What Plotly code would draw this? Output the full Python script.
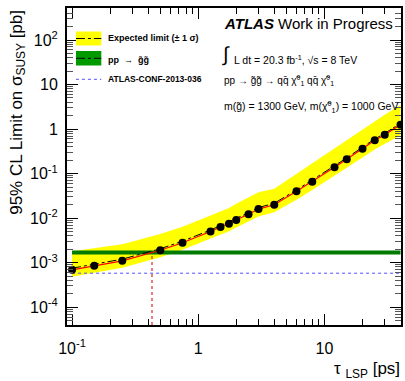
import plotly.graph_objects as go

# ---- data ----
tau = [0.1, 0.15, 0.25, 0.5, 0.75, 1.25, 1.5, 1.75, 2.0, 2.5, 3.0, 4.0, 6.0, 8.0, 12, 15, 20, 25, 30, 40]
limit = [6.9e-4, 8.5e-4, 1.1e-3, 1.9e-3, 2.8e-3, 5.0e-3, 6.3e-3, 7.5e-3, 9.1e-3, 0.0122, 0.016, 0.020,
         0.040, 0.066, 0.139, 0.21, 0.36, 0.56, 0.75, 1.26]
expected = [7.5e-4, 9.3e-4, 1.2e-3, 2.05e-3, 3.05e-3, 5.4e-3, 6.8e-3, 8.1e-3, 9.8e-3, 0.0132, 0.0173, 0.0216,
            0.043, 0.071, 0.15, 0.226, 0.385, 0.6, 0.8, 1.35]
band_up = [1.8e-3, 2.1e-3, 2.6e-3, 4.4e-3, 6.4e-3, 1.14e-2, 1.43e-2, 1.7e-2, 2.1e-2, 2.9e-2, 3.8e-2, 4.6e-2,
           0.1, 0.17, 0.37, 0.57, 1.0, 1.55, 2.1, 3.5]
band_dn = [4.8e-4, 5.9e-4, 7.7e-4, 1.33e-3, 1.95e-3, 3.4e-3, 4.3e-3, 5.1e-3, 6.2e-3, 8.3e-3, 1.09e-2, 1.36e-2,
           2.6e-2, 4.3e-2, 9.0e-2, 0.135, 0.23, 0.35, 0.47, 0.72]
xsec_gluino = 1.7e-3          # pp -> gluino pair cross section [pb]
conf_limit = 5.8e-4           # ATLAS-CONF-2013-036
tau_excl = 0.43               # crossing point [ps]

x_tickvals = [0.1, 1, 10]
x_ticktext = ["10<sup>-1</sup>", "1", "10"]
y_tickvals = [1e-4, 1e-3, 1e-2, 1e-1, 1, 10, 100]
y_ticktext = ["10<sup>-4</sup>", "10<sup>-3</sup>", "10<sup>-2</sup>", "10<sup>-1</sup>", "1", "10", "10<sup>2</sup>"]

W, H = 405, 381
L, R, T, B = 67, 403, 8, 325
XR = [-1.04, 1.606]
YR = [-4.40, 2.72]

def px(x):
    return (x - L) / (R - L)

def py(y):
    return (B - y) / (B - T)

FONT = "Liberation Sans, Arial, Helvetica, sans-serif"

fig = go.Figure()

# yellow band
fig.add_trace(go.Scatter(x=tau + tau[::-1], y=band_up + band_dn[::-1], fill="toself",
                         fillcolor="#ffff00", line=dict(width=0), mode="lines",
                         hoverinfo="skip", showlegend=False))
# green cross-section line
fig.add_trace(go.Scatter(x=[tau[0], tau[-1]], y=[xsec_gluino, xsec_gluino], mode="lines",
                         line=dict(color="#007a00", width=4), showlegend=False))
# blue dotted reference
fig.add_trace(go.Scatter(x=[tau[0], 10 ** XR[1]], y=[conf_limit, conf_limit], mode="lines",
                         line=dict(color="#5050ff", width=1, dash="dot"), showlegend=False))
# red dashed vertical
fig.add_trace(go.Scatter(x=[tau_excl, tau_excl], y=[10 ** YR[0], xsec_gluino], mode="lines",
                         line=dict(color="#cc0000", width=1, dash="dot"), showlegend=False))
# expected dash-dot
fig.add_trace(go.Scatter(x=tau, y=expected, mode="lines",
                         line=dict(color="black", width=1, dash="dashdot"), showlegend=False))
# red line with points
fig.add_trace(go.Scatter(x=tau, y=limit, mode="lines+markers",
                         line=dict(color="#ff0000", width=1.2),
                         marker=dict(color="black", size=8), showlegend=False))

axis_common = dict(showline=True, linecolor="black", linewidth=2, mirror="ticks",
                   ticks="inside", ticklen=11, tickwidth=1, tickcolor="black",
                   showgrid=False, zeroline=False,
                   tickfont=dict(family=FONT, size=16, color="black"))

fig.update_xaxes(type="log", range=XR, tickvals=x_tickvals, ticktext=x_ticktext,
                 ticklabelstandoff=8,
                 minor=dict(ticks="inside", ticklen=6, dtick="D1", tickcolor="black", showgrid=False),
                 **axis_common)
fig.update_yaxes(type="log", range=YR, tickvals=y_tickvals, ticktext=y_ticktext,
                 ticklabelstandoff=4,
                 minor=dict(ticks="inside", ticklen=6, dtick="D1", tickcolor="#555555", showgrid=False),
                 **axis_common)

shapes = []
# legend swatches
shapes.append(dict(type="rect", xref="paper", yref="paper", x0=px(76), x1=px(101.5), y0=py(45.5), y1=py(31.5),
                   fillcolor="#ffff00", line=dict(width=0)))
shapes.append(dict(type="line", xref="paper", yref="paper", x0=px(76), x1=px(101.5), y0=py(38.5), y1=py(38.5),
                   line=dict(color="black", width=1, dash="dashdot")))
shapes.append(dict(type="rect", xref="paper", yref="paper", x0=px(76), x1=px(101.5), y0=py(65.5), y1=py(51),
                   fillcolor="#009900", line=dict(width=0)))
shapes.append(dict(type="line", xref="paper", yref="paper", x0=px(76), x1=px(101.5), y0=py(58.3), y1=py(58.3),
                   line=dict(color="black", width=1, dash="dashdot")))
shapes.append(dict(type="line", xref="paper", yref="paper", x0=px(76), x1=px(101.5), y0=py(79.3), y1=py(79.3),
                   line=dict(color="#5050ff", width=1, dash="dot")))

ann = []
def text(x, y, s, size, xanchor="left", bold=False, **kw):
    if bold:
        s = "<b>" + s + "</b>"
    ann.append(dict(x=px(x), y=py(y), xref="paper", yref="paper", text=s, showarrow=False,
                    xanchor=xanchor, yanchor="middle", font=dict(family=FONT, size=size, color="black"), **kw))

text(106, 38, "Expected limit (± 1 σ)", 9, bold=True)
text(106, 60, "pp  →  g̃g̃", 9, bold=True)
text(106, 79, "ATLAS-CONF-2013-036", 8.5, bold=True)

text(223, 23, "<b><i>ATLAS</i></b> Work in Progress", 15)
text(221, 55, "∫", 20)
text(233, 60, "L dt = 20.3 fb<sup>-1</sup>, √s = 8 TeV", 10.5)
text(223, 80, "pp → g̃g̃ → qq̄ χ̃<sup>0</sup><sub>1</sub> qq̄ χ̃<sup>0</sup><sub>1</sub>", 10)
text(223, 107, "m(g̃) = 1300 GeV, m(χ̃<sup>0</sup><sub>1</sub>) = 1000 GeV", 10.5)

# axis titles
ann.append(dict(x=px(17), y=py(8), xref="paper", yref="paper", textangle=-90,
                text="95% CL Limit on σ<sub>SUSY</sub> [pb]", showarrow=False,
                xanchor="center", yanchor="top", font=dict(family=FONT, size=17, color="black")))
ann.append(dict(x=px(404), y=py(370), xref="paper", yref="paper",
                text="τ <sub>LSP</sub> [ps]", showarrow=False,
                xanchor="right", yanchor="middle", font=dict(family=FONT, size=17, color="black")))

fig.update_layout(width=W, height=H, margin=dict(l=L, r=W - R, t=T, b=H - B),
                  paper_bgcolor="white", plot_bgcolor="white",
                  shapes=shapes, annotations=ann, showlegend=False)

fig.write_html("out.html", config={"displayModeBar": False},
               post_script="document.body.style.margin='0';document.body.style.overflow='hidden';")
